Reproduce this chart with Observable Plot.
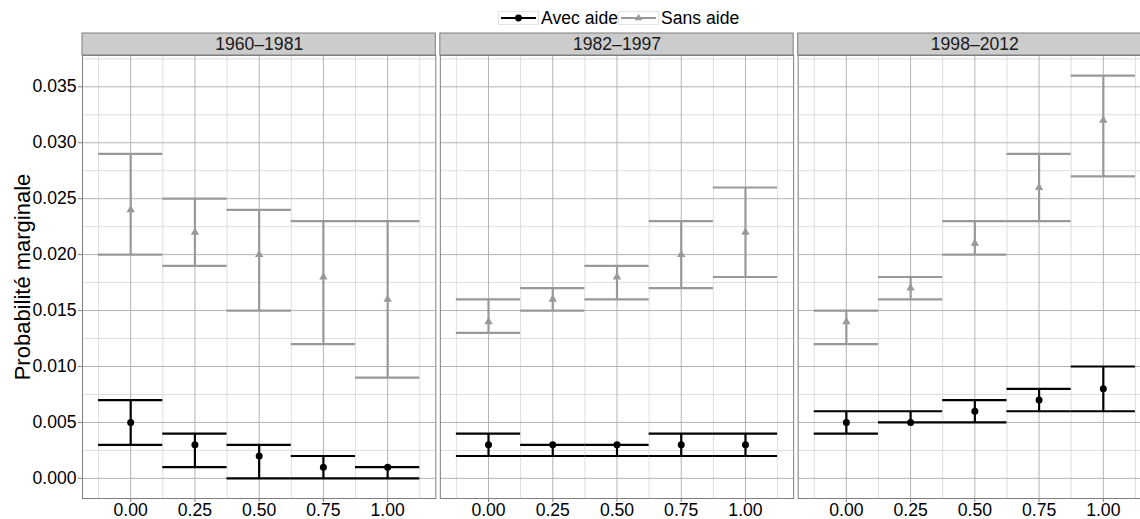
<!DOCTYPE html>
<html>
<head>
<meta charset="utf-8">
<script src="https://cdn.jsdelivr.net/npm/d3@7"></script>
<script src="https://cdn.jsdelivr.net/npm/@observablehq/plot@0.6"></script>
<style>
  html, body { margin: 0; padding: 0; background: white; overflow: hidden; width: 1140px; height: 519px; }
  body { font-family: "Liberation Sans", Arial, Helvetica, sans-serif; }
  #legend { height: 30px; position: relative; }
  .lg-item { position: absolute; top: 11px; display: flex; align-items: center; font-size: 17.6px; line-height: 14px; color: #000; }
  .lg-item svg { display: block; margin-right: 2px; }
  #chart svg { max-width: none !important; }
  #chart g[aria-label="x-axis tick"], #chart g[aria-label="y-axis tick"] { color: #7f7f7f; stroke: #7f7f7f; }
  #chart g[aria-label="y-axis label"] text, #chart g[aria-label="y-axis label"] { font-size: 22px; }
</style>
</head>
<body>
<div id="legend"></div>
<div id="chart"></div>
<script>
// ---- data ----
const periods = ["1960–1981", "1982–1997", "1998–2012"];
const xValues = [0, 0.25, 0.5, 0.75, 1];
const groups = ["Avec aide", "Sans aide"];
const colors = ["#000000", "#999999"];

// Avec aide: estimate, lower, upper (per period, per x)
const avecEst = [[0.005, 0.003, 0.002, 0.001, 0.001], [0.003, 0.003, 0.003, 0.003, 0.003], [0.005, 0.005, 0.006, 0.007, 0.008]];
const avecLo  = [[0.003, 0.001, 0.000, 0.000, 0.000], [0.002, 0.002, 0.002, 0.002, 0.002], [0.004, 0.005, 0.005, 0.006, 0.006]];
const avecHi  = [[0.007, 0.004, 0.003, 0.002, 0.001], [0.004, 0.003, 0.003, 0.004, 0.004], [0.006, 0.006, 0.007, 0.008, 0.010]];
// Sans aide
const sansEst = [[0.024, 0.022, 0.020, 0.018, 0.016], [0.014, 0.016, 0.018, 0.020, 0.022], [0.014, 0.017, 0.021, 0.026, 0.032]];
const sansLo  = [[0.020, 0.019, 0.015, 0.012, 0.009], [0.013, 0.015, 0.016, 0.017, 0.018], [0.012, 0.016, 0.020, 0.023, 0.027]];
const sansHi  = [[0.029, 0.025, 0.024, 0.023, 0.023], [0.016, 0.017, 0.019, 0.023, 0.026], [0.015, 0.018, 0.023, 0.029, 0.036]];

// ticks
const xTicks = [0, 0.25, 0.5, 0.75, 1];
const xMinor = [-0.125, 0.125, 0.375, 0.625, 0.875, 1.125];
const yTicks = [0, 0.005, 0.01, 0.015, 0.02, 0.025, 0.03, 0.035];
const yMinor = [0.0025, 0.0075, 0.0125, 0.0175, 0.0225, 0.0275, 0.0325, 0.0375];

// ---- layout / style ----
const capHalf = 0.125;
const xDomain = [-0.1875, 1.1875];
const yDomain = [-0.0018, 0.0378];
const fontFamily = '"Liberation Sans", Arial, Helvetica, sans-serif';

const series = {
  "Avec aide": {est: avecEst, lo: avecLo, hi: avecHi},
  "Sans aide": {est: sansEst, lo: sansLo, hi: sansHi}
};
const rows = [];
periods.forEach((period, pi) => {
  groups.forEach(group => {
    const s = series[group];
    xValues.forEach((x, xi) => {
      rows.push({period, group, x, est: s.est[pi][xi], lo: s.lo[pi][xi], hi: s.hi[pi][xi]});
    });
  });
});

// strip background (one per facet)
function strips(index, scales, values, dimensions) {
  const ns = "http://www.w3.org/2000/svg";
  const x0 = scales.x(xDomain[0]), x1 = scales.x(xDomain[1]);
  const top = dimensions.marginTop;
  const r = document.createElementNS(ns, "rect");
  r.setAttribute("x", x0);
  r.setAttribute("y", top - 22);
  r.setAttribute("width", x1 - x0);
  r.setAttribute("height", 22);
  r.setAttribute("fill", "#cccccc");
  r.setAttribute("stroke", "#7f7f7f");
  r.setAttribute("stroke-width", 1);
  return r;
}

const chart = Plot.plot({
  width: 1151,
  height: 489,
  marginLeft: 82,
  marginRight: 0,
  marginTop: 25,
  marginBottom: 21,
  style: {fontFamily, fontSize: "17.6px", background: "white", maxWidth: "none", overflow: "visible", color: "#000"},
  facet: {data: rows, x: "period"},
  fx: {domain: periods, padding: 0.0126, round: false, axis: null, label: null},
  x: {domain: xDomain, ticks: xTicks, tickFormat: d3.format(".2f"), tickSize: 4, tickPadding: 1, label: null},
  y: {domain: yDomain, ticks: yTicks, tickFormat: d3.format(".3f"), tickSize: 4, tickPadding: 2,
      label: "Probabilité marginale", labelAnchor: "center", labelOffset: 68, labelArrow: "none"},
  color: {domain: groups, range: colors},
  marks: [
    strips,
    Plot.ruleY(yMinor, {stroke: "#dedede", strokeWidth: 1}),
    Plot.ruleX(xMinor, {stroke: "#dedede", strokeWidth: 1}),
    Plot.ruleY(yTicks, {stroke: "#b3b3b3", strokeWidth: 1}),
    Plot.ruleX(xTicks, {stroke: "#b3b3b3", strokeWidth: 1}),
    Plot.frame({stroke: "#7f7f7f", strokeWidth: 1}),
    Plot.text(rows, Plot.selectFirst({text: "period", frameAnchor: "top", lineAnchor: "middle", dy: -11, fontSize: 17.6, fill: "#1a1a1a"})),
    Plot.ruleX(rows, {x: "x", y1: "lo", y2: "hi", stroke: "group", strokeWidth: 2.2}),
    Plot.ruleY(rows, {y: "lo", x1: d => d.x - capHalf, x2: d => d.x + capHalf, stroke: "group", strokeWidth: 2.2}),
    Plot.ruleY(rows, {y: "hi", x1: d => d.x - capHalf, x2: d => d.x + capHalf, stroke: "group", strokeWidth: 2.2}),
    Plot.dot(rows, {filter: d => d.group === groups[0], x: "x", y: "est", fill: "group", r: 3.5, symbol: "circle"}),
    Plot.dot(rows, {filter: d => d.group === groups[1], x: "x", y: "est", fill: "group", r: 3.1, symbol: "triangle"})
  ]
});
document.getElementById("chart").appendChild(chart);

// ---- legend ----
const legend = d3.select("#legend");
const legendLefts = [498, 618];
groups.forEach((g, i) => {
  const item = legend.append("div").attr("class", "lg-item").style("left", legendLefts[i] + "px");
  const svg = item.append("svg").attr("width", 41).attr("height", 14);
  svg.append("rect").attr("x", 0.5).attr("y", 0.5).attr("width", 40).attr("height", 13)
    .attr("fill", "white").attr("stroke", "#e3e3e3");
  svg.append("line").attr("x1", 3).attr("x2", 38).attr("y1", 7).attr("y2", 7)
    .attr("stroke", colors[i]).attr("stroke-width", 2);
  const sym = i === 0 ? d3.symbolCircle : d3.symbolTriangle;
  const size = i === 0 ? Math.PI * 3.4 * 3.4 : Math.PI * 2.8 * 2.8;
  svg.append("path").attr("d", d3.symbol(sym, size)()).attr("transform", "translate(20.5,7)").attr("fill", colors[i]);
  item.append("span").text(g);
});
</script>
</body>
</html>
